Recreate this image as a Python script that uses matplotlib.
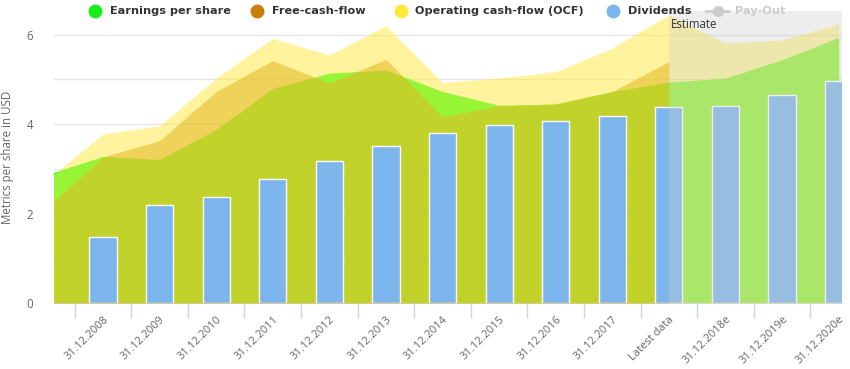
import numpy as np
import matplotlib.pyplot as plt
from matplotlib.lines import Line2D

# categories (first one is only partly in view, left of the plot)
categories = ['31.12.2007', '31.12.2008', '31.12.2009', '31.12.2010', '31.12.2011',
              '31.12.2012', '31.12.2013', '31.12.2014', '31.12.2015', '31.12.2016',
              '31.12.2017', 'Latest data', '31.12.2018e', '31.12.2019e', '31.12.2020e']

eps = [2.87, 3.28, 3.21, 3.88, 4.80, 5.14, 5.21, 4.73, 4.42, 4.45, 4.73, 4.94, 5.03, 5.44, 5.94]
fcf = [2.13, 3.27, 3.63, 4.73, 5.42, 4.92, 5.45, 4.17, 4.41, 4.45, 4.73, 5.40, np.nan, np.nan, np.nan]
ocf = [2.74, 3.78, 3.96, 5.03, 5.92, 5.55, 6.20, 4.93, 5.03, 5.17, 5.70, 6.44, 5.81, 5.88, 6.24]
dividends = [np.nan, 1.48, 2.19, 2.38, 2.77, 3.18, 3.51, 3.81, 3.98, 4.06, 4.18, 4.38, 4.41, 4.65, 4.97]

estimate_from = 'Latest data'

W, H = 850, 369
fig = plt.figure(figsize=(W / 100, H / 100), dpi=100)
ax = fig.add_axes([54 / W, 66 / H, 788 / W, 292 / H])

x = np.arange(len(categories))
eps = np.array(eps)
fcf = np.array(fcf)
ocf = np.array(ocf)
dividends = np.array(dividends)

# areas all start from zero, drawn in the same order as the legend
ax.fill_between(x, eps, color='#14ff14', alpha=0.88, lw=0, zorder=2)
m = np.isfinite(fcf)
ax.fill_between(x[m], fcf[m], color='#c8800a', alpha=0.55, lw=0, zorder=3)
ax.fill_between(x, ocf, color='#ffeb3c', alpha=0.5, lw=0, zorder=4)

m = np.isfinite(dividends)
ax.bar(x[m], dividends[m], width=0.48, color='#7cb5ec', edgecolor='white',
       linewidth=1, zorder=5)

# grey band over the estimates
est = categories.index(estimate_from)
ax.axvspan(est, len(categories), color='#cdcdcd', alpha=0.34, lw=0, zorder=6)
ax.annotate('Estimate', xy=(est, 1), xycoords=('data', 'axes fraction'),
            xytext=(2, -13), textcoords='offset pixels', ha='left', va='center',
            fontsize=8.3, family='Open Sans', color='#333333', zorder=7)

ax.set_xlim(0.134, 14.06)
ax.set_ylim(0, 6.53)

# axes styling
for s in ['top', 'right', 'left']:
    ax.spines[s].set_visible(False)
ax.spines['bottom'].set_color('#ccd6eb')
ax.set_axisbelow(True)
ax.set_yticks([0, 2, 4, 6])
ax.set_yticks([1, 3, 5], minor=True)
ax.grid(axis='y', which='both', color='#e6e6e6', lw=1)
ax.tick_params(axis='y', which='both', length=0, pad=15, labelcolor='#666666',
               labelsize=8.3)
for lab in ax.get_yticklabels():
    lab.set_family('Open Sans')

ax.set_xticks(x[1:])
ax.set_xticks(x[1:] - 0.5, minor=True)
ax.set_xticklabels(categories[1:], rotation=45, ha='right', rotation_mode='anchor',
                   fontsize=8, family='Open Sans', color='#666666')
ax.tick_params(axis='x', which='major', length=0, pad=8)
ax.tick_params(axis='x', which='minor', length=11, color='#ccd6eb', width=1)

ax.set_ylabel('Metrics per share in USD', fontsize=8.3, family='Open Sans',
              color='#666666')
ax.yaxis.set_label_coords((14 - 54) / 788, 0.5)

# legend along the top
legend_items = [('Earnings per share', '#1aee1a', 95, 110),
                ('Free-cash-flow', '#c8800a', 257, 272),
                ('Operating cash-flow (OCF)', '#ffe83a', 401, 415),
                ('Dividends', '#7cb5ec', 613, 628)]
ly = 1 - 11 / H
for name, col, cx, tx in legend_items:
    fig.add_artist(Line2D([cx / W], [ly], marker='o', ms=9, color=col, lw=0))
    fig.text(tx / W, ly, name, ha='left', va='center', fontsize=8.1,
             fontweight='bold', color='#333333', family='DejaVu Sans')
fig.add_artist(Line2D([706 / W, 729 / W], [ly, ly], color='#cccccc', lw=2))
fig.add_artist(Line2D([718 / W], [ly], marker='o', ms=7, color='#cccccc', lw=0))
fig.text(735 / W, ly, 'Pay-Out', ha='left', va='center', fontsize=8.1,
         fontweight='bold', color='#cccccc', family='DejaVu Sans')

fig.savefig('out.png', dpi=100)
